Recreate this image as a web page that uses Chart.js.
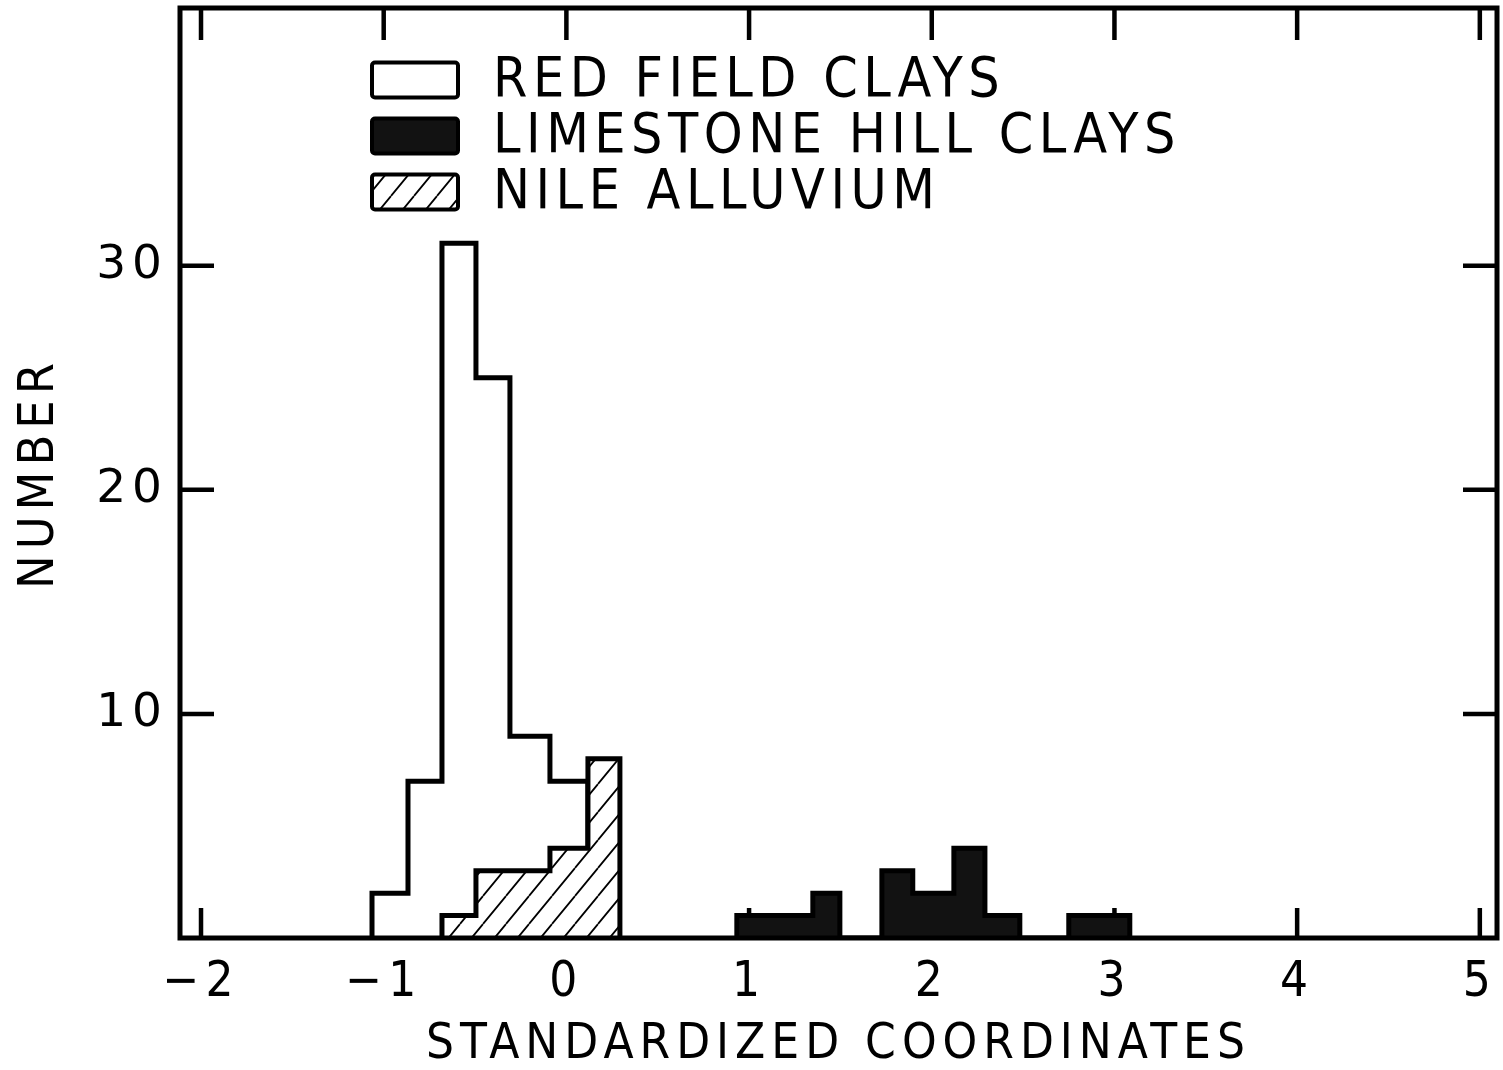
<!DOCTYPE html>
<html><head><meta charset="utf-8">
<script src="https://cdn.jsdelivr.net/npm/chart.js@4.4.1/dist/chart.umd.min.js"></script>
<style>html,body{margin:0;padding:0;background:#fff;}canvas{display:block;}</style>
</head><body>
<canvas id="c" width="1503" height="1070"></canvas>
<script>
// ---- data ----
const SERIES_NAMES = ['RED FIELD CLAYS', 'LIMESTONE HILL CLAYS', 'NILE ALLUVIUM'];
const RED_EDGES   = [-1.064, -0.867, -0.681, -0.495, -0.309, -0.090, 0.118];
const RED_COUNTS  = [2, 7, 31, 25, 9, 7];
const LIME_EDGES  = [0.933, 1.349, 1.497, 1.727, 1.896, 2.121, 2.291, 2.482, 2.750, 3.084];
const LIME_COUNTS = [1, 2, 0, 3, 2, 4, 1, 0, 1];
const NILE_EDGES  = [-0.681, -0.495, -0.309, -0.090, 0.118, 0.293];
const NILE_COUNTS = [1, 3, 3, 4, 8];
const X_TICKS = [-2, -1, 0, 1, 2, 3, 4, 5];
const Y_TICKS = [10, 20, 30];
const X_TITLE = 'STANDARDIZED COORDINATES';
const Y_TITLE = 'NUMBER';
const X_RANGE = [-2.115, 5.094];
const Y_RANGE = [0, 41.5];

const COND = "'DejaVu Sans Condensed', 'Liberation Sans Narrow', 'DejaVu Sans', sans-serif";

// histogram outline as a stepped line through the bin edges
function steps(edges, counts) {
  const pts = [{x: edges[0], y: 0}];
  counts.forEach((c, i) => pts.push({x: edges[i], y: c}));
  pts.push({x: edges[edges.length - 1], y: 0});
  return pts;
}

function hatchPattern() {
  const w = 23, h = 28;
  const c = document.createElement('canvas'); c.width = w; c.height = h;
  const g = c.getContext('2d');
  g.fillStyle = '#fff'; g.fillRect(0, 0, w, h);
  g.strokeStyle = '#000'; g.lineWidth = 1.8;
  g.beginPath();
  [-w, 0, w].forEach(x0 => { g.moveTo(x0, h); g.lineTo(x0 + w, 0); });
  g.stroke();
  return document.getElementById('c').getContext('2d').createPattern(c, 'repeat');
}
const HATCH = hatchPattern();
const FILLS = ['#ffffff', '#121212', HATCH];

const framePlugin = {
  id: 'frame',
  beforeDraw(chart) { chart.ctx.letterSpacing = '6px'; },
  beforeDatasetsDraw(chart) {
    const {ctx, chartArea: a, scales: {x, y}} = chart;
    ctx.save();
    ctx.strokeStyle = '#000'; ctx.lineWidth = 4.5;
    ctx.beginPath();
    X_TICKS.forEach(v => {
      const px = x.getPixelForValue(v);
      ctx.moveTo(px, a.top); ctx.lineTo(px, a.top + 32);
      ctx.moveTo(px, a.bottom); ctx.lineTo(px, a.bottom - 30);
    });
    Y_TICKS.forEach(v => {
      const py = y.getPixelForValue(v);
      ctx.moveTo(a.left, py); ctx.lineTo(a.left + 34, py);
      ctx.moveTo(a.right, py); ctx.lineTo(a.right - 34, py);
    });
    ctx.stroke();
    ctx.restore();
  },
  afterDatasetsDraw(chart) {
    const {ctx, chartArea: a} = chart;
    ctx.save();
    ctx.strokeStyle = '#000'; ctx.lineWidth = 5;
    ctx.strokeRect(a.left, a.top, a.right - a.left, a.bottom - a.top);
    // legend
    const bx = 372, bw = 86, bh = 35, rows = [80, 136, 192];
    ctx.font = `55px ${COND}`;
    ctx.letterSpacing = '5.5px';
    ctx.textBaseline = 'middle';
    SERIES_NAMES.forEach((name, i) => {
      const cy = rows[i];
      ctx.fillStyle = FILLS[i];
      ctx.beginPath(); ctx.roundRect(bx, cy - bh / 2, bw, bh, 3); ctx.fill();
      ctx.lineWidth = 4; ctx.strokeStyle = '#000'; ctx.stroke();
      ctx.fillStyle = '#000';
      ctx.fillText(name, 493, cy + 2);
    });
    ctx.restore();
  }
};

const ds = (i, edges, counts, order) => ({
  label: SERIES_NAMES[i],
  data: steps(edges, counts),
  stepped: 'before',
  borderColor: '#000',
  borderWidth: 5,
  backgroundColor: FILLS[i],
  fill: 'origin',
  pointRadius: 0,
  tension: 0,
  order
});

new Chart(document.getElementById('c'), {
  type: 'line',
  data: {
    datasets: [
      ds(0, RED_EDGES, RED_COUNTS, 3),
      ds(1, LIME_EDGES, LIME_COUNTS, 2),
      ds(2, NILE_EDGES, NILE_COUNTS, 1)
    ]
  },
  options: {
    responsive: false,
    animation: false,
    devicePixelRatio: 1,
    layout: {padding: {top: 8, right: 6, left: 0, bottom: 0}},
    plugins: {legend: {display: false}, tooltip: {enabled: false}},
    scales: {
      x: {
        type: 'linear', min: X_RANGE[0], max: X_RANGE[1],
        afterBuildTicks: s => { s.ticks = X_TICKS.map(v => ({value: v})); },
        afterFit: s => { s.height = 132; s.paddingLeft = 0; s.paddingRight = 0; },
        grid: {display: false, drawTicks: false},
        border: {display: false},
        ticks: {
          autoSkip: false, maxRotation: 0, padding: 16, color: '#000',
          font: {family: COND, size: 49},
          callback: v => (v < 0 ? '\u2212' : '') + Math.abs(v)
        },
        title: {display: true, text: X_TITLE, color: '#000',
          font: {family: COND, size: 49, lineHeight: 1}, padding: {top: 0, bottom: 0}}
      },
      y: {
        type: 'linear', min: Y_RANGE[0], max: Y_RANGE[1],
        afterBuildTicks: s => { s.ticks = Y_TICKS.map(v => ({value: v})); },
        afterFit: s => { s.width = 180; s.paddingTop = 0; s.paddingBottom = 0; },
        grid: {display: false, drawTicks: false},
        border: {display: false},
        ticks: {
          autoSkip: false, padding: 12, color: '#000',
          font: {family: "'DejaVu Sans', sans-serif", size: 47}
        },
        title: {display: true, text: Y_TITLE, color: '#000',
          font: {family: COND, size: 50, lineHeight: 1}, padding: {top: 15, bottom: 0}}
      }
    }
  },
  plugins: [framePlugin]
});
</script>
</body></html>
